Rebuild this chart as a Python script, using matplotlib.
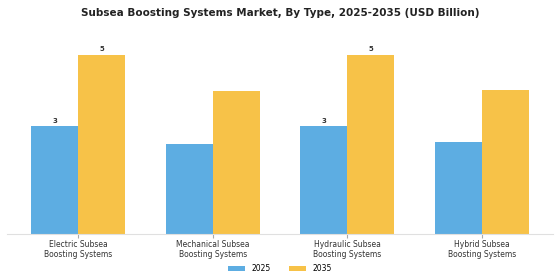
import numpy as np
import matplotlib
matplotlib.use("Agg")
import matplotlib.pyplot as plt

categories = ["Electric Subsea\nBoosting Systems", "Mechanical Subsea\nBoosting Systems",
              "Hydraulic Subsea\nBoosting Systems", "Hybrid Subsea\nBoosting Systems"]
years = ["2025", "2035"]
values_2025 = [3.0, 2.5, 3.0, 2.57]
values_2035 = [5.0, 4.0, 5.0, 4.03]
labeled = [True, False, True, False]  # only these groups carry value labels

colors = ["#5DADE2", "#F7C248"]

fig = plt.figure(figsize=(5.6, 2.8), dpi=100)
ax = fig.add_axes([0.0125, 0.164, 0.975, 0.725])

x = np.arange(len(categories))
w = 0.35
b1 = ax.bar(x - w / 2, values_2025, w, color=colors[0], label=years[0])
b2 = ax.bar(x + w / 2, values_2035, w, color=colors[1], label=years[1])

for bars, vals in [(b1, values_2025), (b2, values_2035)]:
    for rect, v, show in zip(bars, vals, labeled):
        if show:
            ax.text(rect.get_x() + rect.get_width() / 2, v + 0.08, f"{v:.0f}",
                    ha="center", va="bottom", fontsize=5, fontweight="bold", color="#333333")

ax.set_xlim(-0.53, 3.53)
ax.set_ylim(0, 5.66)
ax.set_xticks(x)
ax.set_xticklabels(categories, fontsize=5.5, color="#333333", linespacing=1.1)
ax.set_yticks([])
for side in ["top", "right", "left"]:
    ax.spines[side].set_visible(False)
ax.spines["bottom"].set_color("#e0e0e0")
ax.tick_params(axis="x", length=3, color="#aaaaaa", pad=1.5)

fig.suptitle("Subsea Boosting Systems Market, By Type, 2025-2035 (USD Billion)",
             fontsize=7.5, fontweight="bold", color="#222222", y=0.972)
fig.legend(loc="lower center", bbox_to_anchor=(0.5, 0.0), ncol=2, fontsize=5.5,
           frameon=False, handlelength=2.2, handleheight=0.6, columnspacing=2.5)

plt.savefig("out.png", dpi=100)
